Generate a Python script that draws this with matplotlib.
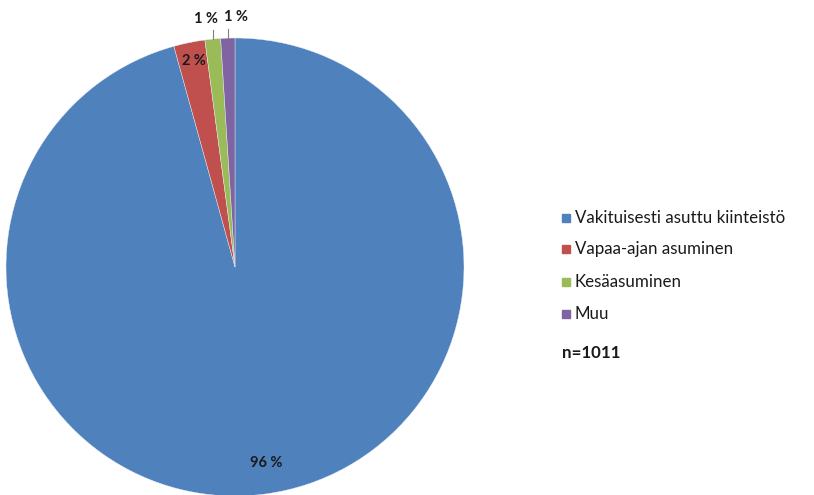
import numpy as np
import matplotlib.pyplot as plt

# === DATA ===
categories = ["Vakituisesti asuttu kiinteistö", "Vapaa-ajan asuminen", "Kesäasuminen", "Muu"]
shares = [95.7, 2.2, 1.1, 1.0]
labels = ["96 %", "2 %", "1 %", "1 %"]
colors = ["#4F81BD", "#C0504D", "#9BBB59", "#8064A2"]
n_text = "n=1011"

plt.rcParams["font.family"] = ["Lato", "DejaVu Sans"]

W, H = 814, 495
fig = plt.figure(figsize=(W / 100, H / 100), dpi=100)
cx, cy, r = 235, 267, 229
ax = fig.add_axes([(cx - r) / W, (H - cy - r) / H, 2 * r / W, 2 * r / H])

wedges, _ = ax.pie(shares, colors=colors, startangle=90, counterclock=False,
                   radius=1.0, wedgeprops=dict(linewidth=0.3, edgecolor="#e8eef6"))
ax.set_xlim(-1, 1)
ax.set_ylim(-1, 1)
ax.set_aspect("equal")
ax.axis("off")

# label placement
label_style = dict(ha="center", va="center", fontsize=10.5, fontweight="bold", color="#1a1a1a")
ax.text(0.135, -0.856, labels[0], **label_style)
ax.text(-0.18, 0.9, labels[1], **label_style)

# small slices: labels outside with leader lines
offsets = [(-0.125, 1.085), (0.005, 1.09)]
for w, lab, (tx, ty) in zip(wedges[2:], labels[2:], offsets):
    mid = np.deg2rad((w.theta1 + w.theta2) / 2)
    x0, y0 = np.cos(mid), np.sin(mid)
    ax.plot([x0, x0], [y0, ty - 0.05], color="#7f7f7f", lw=0.8, clip_on=False)
    ax.text(tx, ty, lab, clip_on=False, **label_style)

# legend
lx, ly = 566, [218, 249, 282, 314]
for cat, col, y in zip(categories, colors, ly):
    fig.patches.append(plt.Rectangle(((lx - 4) / W, (H - y - 4) / H), 8 / W, 8 / H,
                                     transform=fig.transFigure, color=col))
    fig.text((lx + 9) / W, (H - y) / H, cat, ha="left", va="center", fontsize=12.2, color="#1a1a1a")
fig.text((lx - 4) / W, (H - 353) / H, n_text, ha="left", va="center", fontsize=12.2,
         fontweight="bold", color="#1a1a1a")

fig.savefig("out.png", dpi=100)
